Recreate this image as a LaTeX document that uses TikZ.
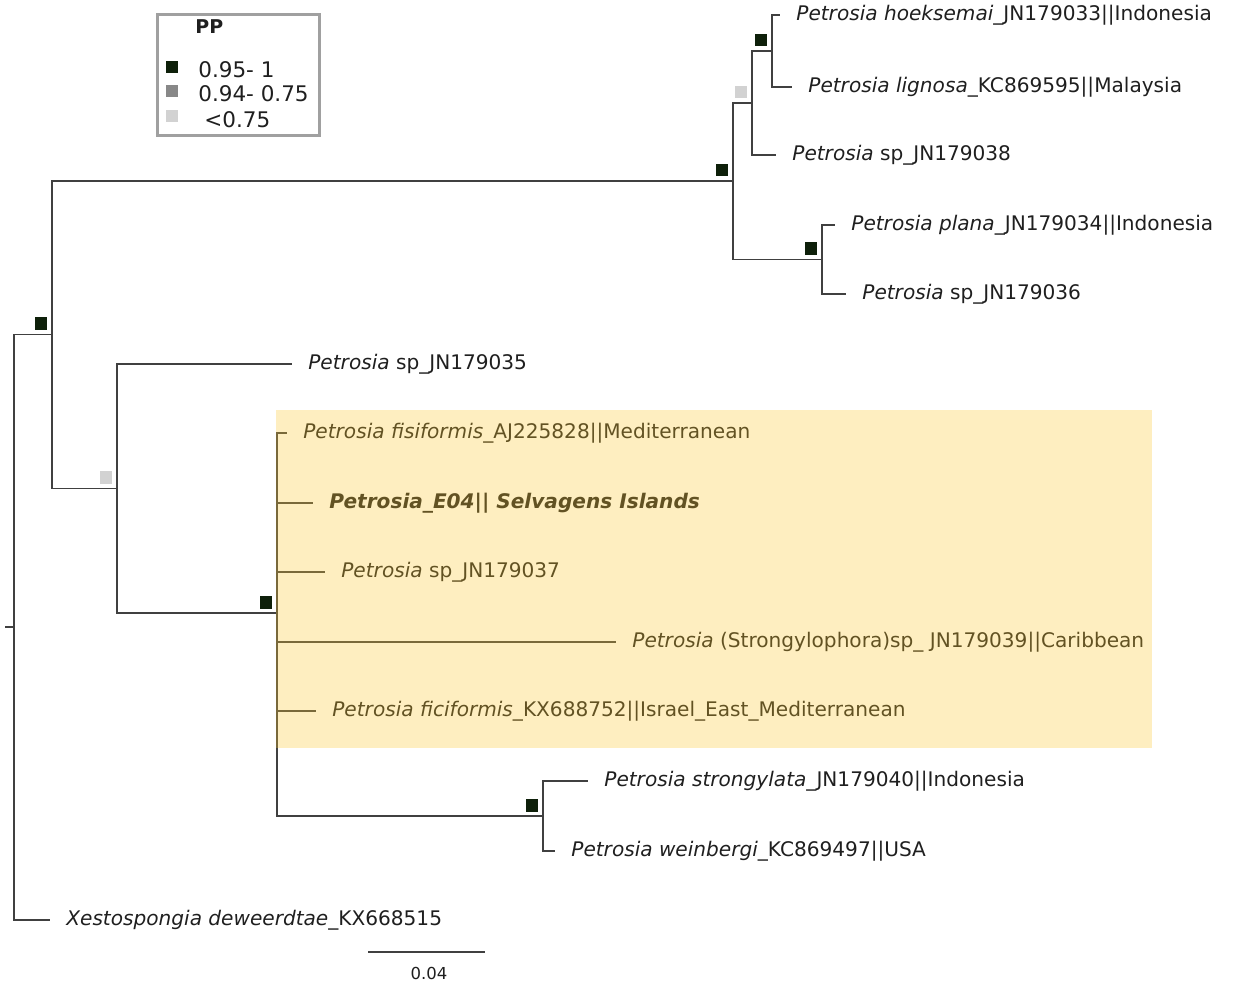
\documentclass[tikz,border=0pt]{standalone}
\usepackage{fontspec}
\setmainfont{DejaVu Sans}
\usetikzlibrary{positioning}

\definecolor{branchgray}{RGB}{64,64,64}
\definecolor{ppdark}{RGB}{14,32,10}
\definecolor{ppmid}{RGB}{136,136,136}
\definecolor{pplight}{RGB}{210,210,210}
\definecolor{framegray}{RGB}{160,160,160}
\definecolor{clade}{RGB}{253,200,45}

\tikzset{every picture/.style={line width=0.75pt}}

\begin{document}
\begin{tikzpicture}[x=1pt,y=1pt,yscale=-1,
  branch/.style={draw=branchgray,line width=1.7pt},
  taxon/.style={anchor=west,inner xsep=16pt,inner ysep=0pt,text=black!88,font=\fontsize{20.1}{23}\selectfont},
  ppsq/.style={minimum size=12.5pt,inner sep=0pt,outer sep=0pt},
  legtext/.style={anchor=west,inner sep=0pt,text=black!88,font=\fontsize{21.5}{24}\selectfont}]
\useasboundingbox (0,0) rectangle (1235,981);

% internal nodes
\coordinate (stub) at (5,627);
\coordinate (root) at (14,627);
\coordinate (nA) at (52,334.5);
\coordinate (nUP) at (733,181);
\coordinate (nHLS) at (752,103);
\coordinate (nHL) at (772,51);
\coordinate (nPL) at (822,259.5);
\coordinate (nLOW) at (117,488.5);
\coordinate (nMED) at (277,613);
\coordinate (nSW) at (543,816);

% tips
\node[taxon] (hoek) at (780,15) {\textit{Petrosia hoeksemai}\_JN179033||Indonesia};
\node[taxon] (lign) at (792,87) {\textit{Petrosia lignosa}\_KC869595||Malaysia};
\node[taxon] (sp38) at (776,155) {\textit{Petrosia} sp\_JN179038};
\node[taxon] (plana) at (835,225) {\textit{Petrosia plana}\_JN179034||Indonesia};
\node[taxon] (sp36) at (846,294) {\textit{Petrosia} sp\_JN179036};
\node[taxon] (sp35) at (292,364) {\textit{Petrosia} sp\_JN179035};
\node[taxon] (fisi) at (287,433) {\textit{Petrosia fisiformis}\_AJ225828||Mediterranean};
\node[taxon] (e04) at (313,503) {\textbf{\textit{Petrosia\_E04|| Selvagens Islands}}};
\node[taxon] (sp37) at (325,572) {\textit{Petrosia} sp\_JN179037};
\node[taxon] (stron) at (616,642) {\textit{Petrosia} (Strongylophora)sp\_ JN179039||Caribbean};
\node[taxon] (fici) at (316,711) {\textit{Petrosia ficiformis}\_KX688752||Israel\_East\_Mediterranean};
\node[taxon] (strongy) at (588,781) {\textit{Petrosia strongylata}\_JN179040||Indonesia};
\node[taxon] (wein) at (555,851) {\textit{Petrosia weinbergi}\_KC869497||USA};
\node[taxon] (xesto) at (50,920) {\textit{Xestospongia deweerdtae}\_KX668515};

% branches
\draw[branch] (stub) -- (root);
\foreach \p/\c in {root/nA, root/xesto.west, nA/nUP, nA/nLOW, nUP/nHLS, nUP/nPL,
    nHLS/nHL, nHLS/sp38.west, nHL/hoek.west, nHL/lign.west, nPL/plana.west, nPL/sp36.west,
    nLOW/sp35.west, nLOW/nMED, nMED/fisi.west, nMED/e04.west, nMED/sp37.west,
    nMED/stron.west, nMED/fici.west, nMED/nSW, nSW/strongy.west, nSW/wein.west}
  \draw[branch] (\p) |- (\c);

% posterior probabilities
\foreach \n/\c in {nA/ppdark, nUP/ppdark, nHLS/pplight, nHL/ppdark, nPL/ppdark,
    nLOW/pplight, nMED/ppdark, nSW/ppdark}
  \node[ppsq,fill=\c,above left=4.5pt and 5pt of \n] {};

% legend
\node[draw=framegray,line width=3pt,minimum width=162pt,minimum height=121pt,anchor=north west,inner sep=0pt] (legend) at (156,13) {};
\node[legtext,font=\fontsize{19}{22}\selectfont\bfseries] (pp) at (195,27) {PP};
\node[ppsq,fill=ppdark] (k1) at (172,67) {};
\node[ppsq,fill=ppmid] (k2) at (172,91) {};
\node[ppsq,fill=pplight] (k3) at (172,116) {};
\node[legtext] (l1) at (198,70) {0.95- 1};
\node[legtext] (l2) at (198,94) {0.94- 0.75};
\node[legtext] (l3) at (204,120) {<0.75};

% scale bar
\coordinate (sb1) at (368,952);
\coordinate (sb2) at (485,952);
\draw[branch] (sb1) -- (sb2);
\node[text=black!88,font=\fontsize{16.5}{19}\selectfont] (sblab) at (429,973) {0.04};

% highlighted clade
\fill[clade,fill opacity=0.3] (276,410) rectangle (1152,748);

\end{tikzpicture}
\end{document}
